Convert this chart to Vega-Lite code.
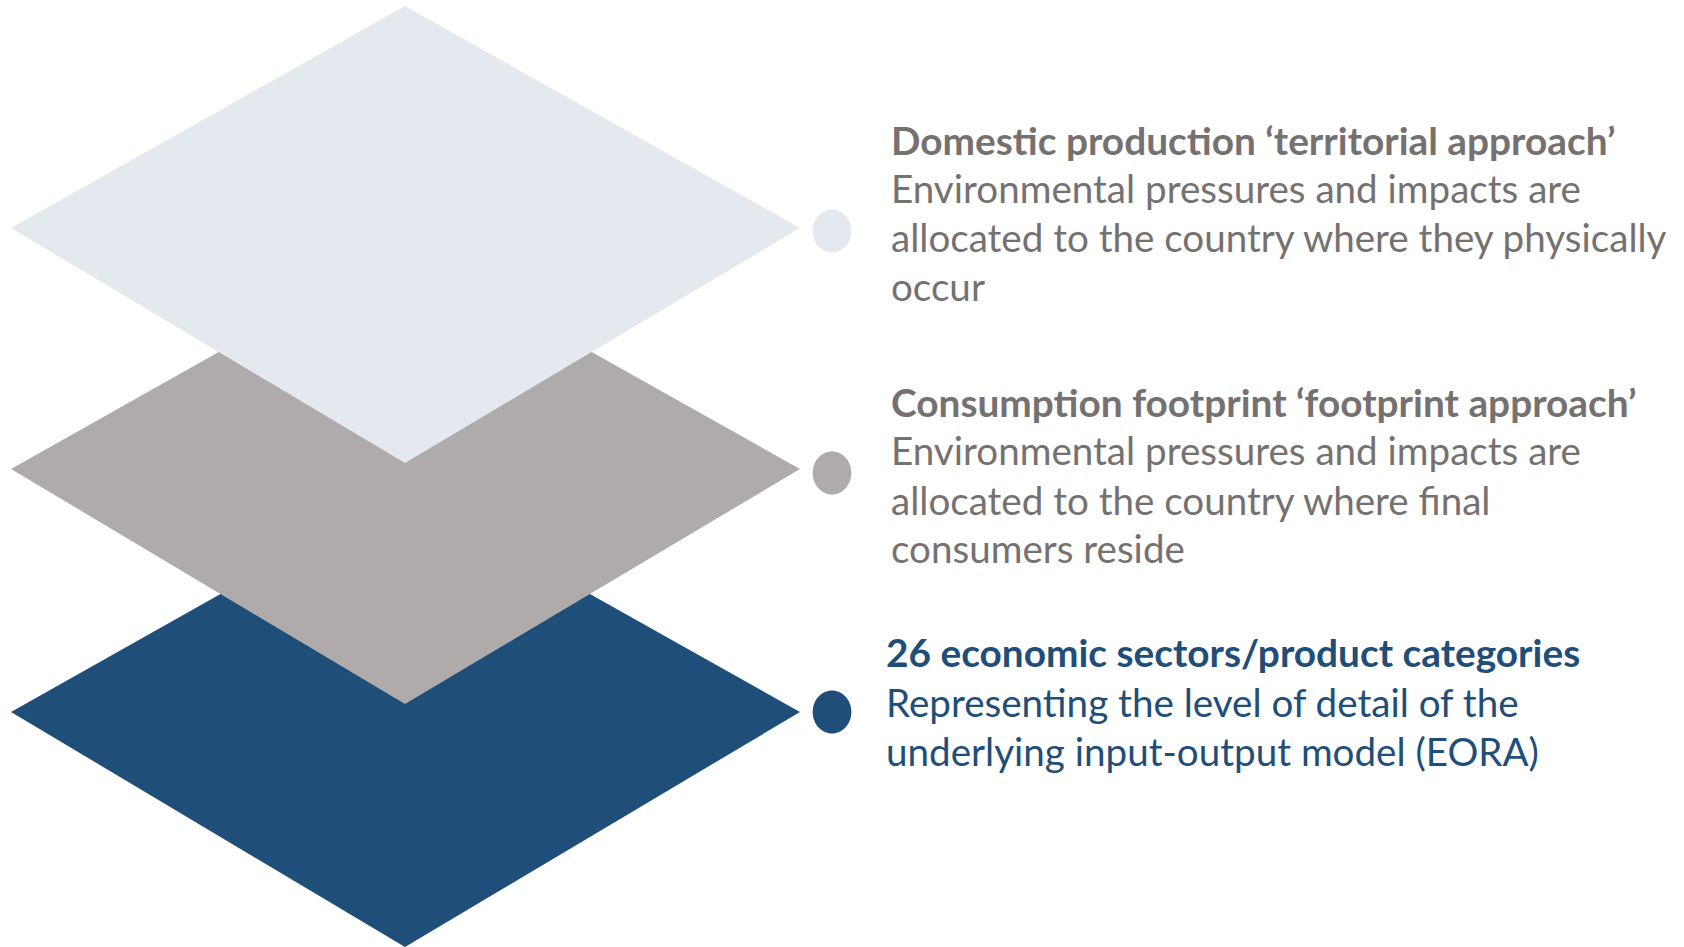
{
  "$schema": "https://vega.github.io/schema/vega-lite/v6.json",
  "width": 1684,
  "height": 947,
  "autosize": {"type": "fit", "contains": "padding"},
  "padding": 0,
  "background": "white",
  "config": {"view": {"stroke": null}},
  "datasets": {
    "diamonds": [
      {"layer": "sectors", "x": 11, "yt": 712, "yb": 712},
      {"layer": "sectors", "x": 405, "yt": 490, "yb": 947},
      {"layer": "sectors", "x": 800, "yt": 712, "yb": 712},
      {"layer": "footprint", "x": 11, "yt": 469, "yb": 469},
      {"layer": "footprint", "x": 405, "yt": 247, "yb": 704},
      {"layer": "footprint", "x": 800, "yt": 469, "yb": 469},
      {"layer": "domestic", "x": 11, "yt": 228, "yb": 228},
      {"layer": "domestic", "x": 405, "yt": 6, "yb": 463},
      {"layer": "domestic", "x": 800, "yt": 228, "yb": 228}
    ],
    "dots": [
      {"layer": "domestic", "x": 832, "y": 231},
      {"layer": "footprint", "x": 832, "y": 473},
      {"layer": "sectors", "x": 832, "y": 712}
    ],
    "titles": [
      {"tone": "grey", "x": 891, "y": 155, "text": "Domestic production ‘territorial approach’"},
      {"tone": "grey", "x": 891, "y": 417, "text": "Consumption footprint ‘footprint approach’"},
      {"tone": "blue", "x": 886, "y": 667, "text": "26 economic sectors/product categories"}
    ],
    "lines": [
      {"tone": "grey", "x": 891, "y": 203, "text": "Environmental pressures and impacts are"},
      {"tone": "grey", "x": 891, "y": 252, "text": "allocated to the country where they physically"},
      {"tone": "grey", "x": 891, "y": 301, "text": "occur"},
      {"tone": "grey", "x": 891, "y": 465, "text": "Environmental pressures and impacts are"},
      {"tone": "grey", "x": 891, "y": 515, "text": "allocated to the country where final"},
      {"tone": "grey", "x": 891, "y": 563, "text": "consumers reside"},
      {"tone": "blue", "x": 886, "y": 717, "text": "Representing the level of detail of the"},
      {"tone": "blue", "x": 886, "y": 766, "text": "underlying input-output model (EORA)"}
    ]
  },
  "layer": [
    {
      "data": {"name": "diamonds"},
      "transform": [{"filter": "datum.layer === 'sectors'"}],
      "mark": {"type": "area", "color": "#1f4e79", "interpolate": "linear"},
      "encoding": {
        "x": {"field": "x", "type": "quantitative", "scale": {"domain": [0, 1684]}, "axis": null},
        "y": {"field": "yt", "type": "quantitative", "scale": {"domain": [947, 0]}, "axis": null, "stack": null},
        "y2": {"field": "yb"}
      }
    },
    {
      "data": {"name": "diamonds"},
      "transform": [{"filter": "datum.layer === 'footprint'"}],
      "mark": {"type": "area", "color": "#afabab", "interpolate": "linear"},
      "encoding": {
        "x": {"field": "x", "type": "quantitative", "scale": {"domain": [0, 1684]}, "axis": null},
        "y": {"field": "yt", "type": "quantitative", "scale": {"domain": [947, 0]}, "axis": null, "stack": null},
        "y2": {"field": "yb"}
      }
    },
    {
      "data": {"name": "diamonds"},
      "transform": [{"filter": "datum.layer === 'domestic'"}],
      "mark": {"type": "area", "color": "#e3e9ee", "interpolate": "linear"},
      "encoding": {
        "x": {"field": "x", "type": "quantitative", "scale": {"domain": [0, 1684]}, "axis": null},
        "y": {"field": "yt", "type": "quantitative", "scale": {"domain": [947, 0]}, "axis": null, "stack": null},
        "y2": {"field": "yb"}
      }
    },
    {
      "data": {"name": "dots"},
      "mark": {"type": "point", "filled": true, "opacity": 1, "size": 1849, "shape": "M0,-1A0.9,1,0,1,1,0,1A0.9,1,0,1,1,0,-1Z"},
      "encoding": {
        "x": {"field": "x", "type": "quantitative", "scale": {"domain": [0, 1684]}, "axis": null},
        "y": {"field": "y", "type": "quantitative", "scale": {"domain": [947, 0]}, "axis": null},
        "fill": {"field": "layer", "type": "nominal", "scale": {"domain": ["domestic", "footprint", "sectors"], "range": ["#e3e9ee", "#afabab", "#1f4e79"]}, "legend": null}
      }
    },
    {
      "data": {"name": "titles"},
      "mark": {"type": "text", "align": "left", "baseline": "alphabetic", "font": "Lato", "fontSize": 38.8, "fontWeight": "bold"},
      "encoding": {
        "x": {"field": "x", "type": "quantitative", "scale": {"domain": [0, 1684]}, "axis": null},
        "y": {"field": "y", "type": "quantitative", "scale": {"domain": [947, 0]}, "axis": null},
        "text": {"field": "text"},
        "color": {"field": "tone", "type": "nominal", "scale": {"domain": ["grey", "blue"], "range": ["#767171", "#1f4e79"]}, "legend": null}
      }
    },
    {
      "data": {"name": "lines"},
      "mark": {"type": "text", "align": "left", "baseline": "alphabetic", "font": "Lato", "fontSize": 38.6},
      "encoding": {
        "x": {"field": "x", "type": "quantitative", "scale": {"domain": [0, 1684]}, "axis": null},
        "y": {"field": "y", "type": "quantitative", "scale": {"domain": [947, 0]}, "axis": null},
        "text": {"field": "text"},
        "color": {"field": "tone", "type": "nominal", "scale": {"domain": ["grey", "blue"], "range": ["#7f7f7f", "#1f4e79"]}, "legend": null}
      }
    }
  ]
}
